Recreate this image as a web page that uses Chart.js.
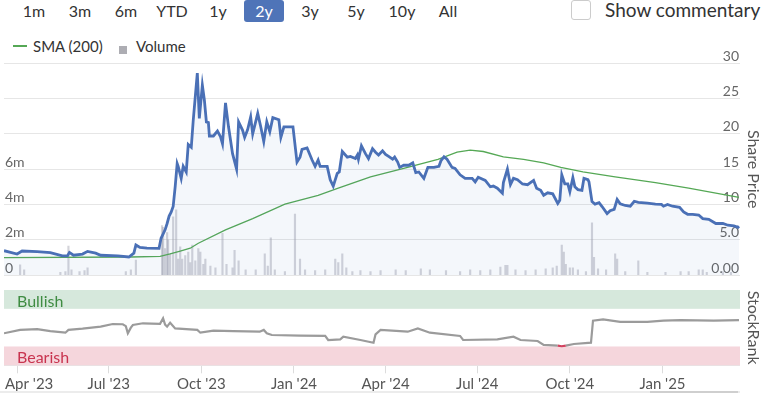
<!DOCTYPE html>
<html>
<head>
<meta charset="utf-8">
<script src="https://cdn.jsdelivr.net/npm/chart.js@4.4.1/dist/chart.umd.min.js"></script>
<style>
  html, body { margin: 0; padding: 0; background: #fff; }
  body { width: 764px; height: 393px; position: relative; overflow: hidden; font-family: Lato, sans-serif; color: #333; }
  #ranges { position: absolute; left: 11px; top: 0; display: flex; }
  #ranges span { width: 40px; margin: 0 3px; height: 22px; line-height: 22px; text-align: center; font-size: 16px; border-radius: 3px; }
  #ranges span.on { background: #4f74b8; color: #fff; }
  #commentBox { position: absolute; left: 571px; top: 0; width: 18px; height: 18px; border: 1px solid #ccc; border-radius: 3px; }
  #commentText { position: absolute; left: 605px; top: 0; line-height: 20px; font-size: 19px; }
  #legend { position: absolute; left: 0; top: 37px; height: 18px; font-size: 15px; line-height: 18px; }
  #legend .sma-line { position: absolute; left: 13px; top: 8px; width: 14px; height: 2px; background: #55a855; }
  #legend .sma-text { position: absolute; left: 33px; top: 0; white-space: nowrap; }
  #legend .vol-box { position: absolute; left: 119px; top: 9px; width: 8px; height: 8px; background: #adadb3; }
  #legend .vol-text { position: absolute; left: 136px; top: 0; }
  canvas { position: absolute; left: 0; }
  #priceChart { top: 44px; }
  #rankChart { top: 280px; }
  #scrollTrack { position: absolute; left: 0; top: 391px; width: 740px; height: 2px; background: #ececec; }
  #scrollThumb { position: absolute; left: 650px; top: 391px; width: 88px; height: 2px; background: #cfcfcf; }
</style>
</head>
<body>
<div id="ranges"></div>
<div id="commentBox"></div>
<div id="commentText">Show commentary</div>
<div id="legend">
  <div class="sma-line"></div><div class="sma-text">SMA (200)</div>
  <div class="vol-box"></div><div class="vol-text">Volume</div>
</div>
<canvas id="priceChart" width="764" height="244"></canvas>
<canvas id="rankChart" width="764" height="113"></canvas>
<div id="scrollTrack"></div>
<div id="scrollThumb"></div>
<script>
const rangeButtons = ['1m', '3m', '6m', 'YTD', '1y', '2y', '3y', '5y', '10y', 'All'];
const selectedRange = '2y';
const rangeStart = '2023-03-19';
const rangeEnd = '2025-03-19';

const quarterDates = ['2023-04-01', '2023-07-01', '2023-10-01', '2024-01-01', '2024-04-01', '2024-07-01', '2024-10-01', '2025-01-01'];
const quarterLabels = ["Apr '23", "Jul '23", "Oct '23", "Jan '24", "Apr '24", "Jul '24", "Oct '24", "Jan '25"];

const priceTicks = [0, 5, 10, 15, 20, 25, 30];
const priceTickLabels = ['0.00', '5.0', '10', '15', '20', '25', '30'];
const volumeTicks = [0, 2e6, 4e6, 6e6];
const volumeTickLabels = ['0', '2m', '4m', '6m'];
const rankTicks = [0, 100];
const rankTickLabels = ['0', ''];
const BULLISH_MIN = 75;
const BEARISH_MAX = 25;

const priceDates = [
  '2023-03-19', '2023-04-01', '2023-04-06', '2023-04-21', '2023-05-04', '2023-05-16', '2023-05-21', '2023-05-23',
  '2023-05-27', '2023-06-05', '2023-06-10', '2023-06-18', '2023-06-23', '2023-07-10', '2023-07-21', '2023-07-26',
  '2023-07-28', '2023-08-01', '2023-08-08', '2023-08-20', '2023-08-22', '2023-08-26', '2023-08-28', '2023-08-30',
  '2023-09-01', '2023-09-03', '2023-09-05', '2023-09-07', '2023-09-08', '2023-09-11', '2023-09-13', '2023-09-16',
  '2023-09-18', '2023-09-21', '2023-09-23', '2023-09-27', '2023-09-29', '2023-10-02', '2023-10-04', '2023-10-06',
  '2023-10-08', '2023-10-09', '2023-10-13', '2023-10-17', '2023-10-20', '2023-10-22', '2023-10-25', '2023-10-28',
  '2023-11-01', '2023-11-05', '2023-11-07', '2023-11-11', '2023-11-13', '2023-11-16', '2023-11-19', '2023-11-21',
  '2023-11-26', '2023-11-29', '2023-12-02', '2023-12-05', '2023-12-08', '2023-12-11', '2023-12-17', '2023-12-19',
  '2023-12-22', '2023-12-31', '2024-01-04', '2024-01-07', '2024-01-09', '2024-01-14', '2024-01-19', '2024-01-22',
  '2024-01-25', '2024-01-27', '2024-02-03', '2024-02-06', '2024-02-09', '2024-02-13', '2024-02-15', '2024-02-18',
  '2024-02-23', '2024-02-26', '2024-03-02', '2024-03-04', '2024-03-05', '2024-03-08', '2024-03-12', '2024-03-15',
  '2024-03-19', '2024-03-22', '2024-03-25', '2024-03-29', '2024-04-01', '2024-04-04', '2024-04-08', '2024-04-10',
  '2024-04-13', '2024-04-15', '2024-04-19', '2024-04-24', '2024-04-28', '2024-05-01', '2024-05-04', '2024-05-09',
  '2024-05-13', '2024-05-19', '2024-05-24', '2024-05-26', '2024-05-29', '2024-06-01', '2024-06-06', '2024-06-09',
  '2024-06-14', '2024-06-19', '2024-06-26', '2024-06-29', '2024-07-02', '2024-07-09', '2024-07-14', '2024-07-17',
  '2024-07-21', '2024-07-26', '2024-07-27', '2024-07-31', '2024-08-03', '2024-08-06', '2024-08-10', '2024-08-15',
  '2024-08-20', '2024-08-26', '2024-08-29', '2024-09-02', '2024-09-05', '2024-09-09', '2024-09-14', '2024-09-19',
  '2024-09-21', '2024-09-23', '2024-09-26', '2024-09-29', '2024-10-01', '2024-10-04', '2024-10-06', '2024-10-09',
  '2024-10-13', '2024-10-15', '2024-10-19', '2024-10-20', '2024-10-23', '2024-10-26', '2024-10-30', '2024-11-02',
  '2024-11-07', '2024-11-10', '2024-11-14', '2024-11-17', '2024-11-20', '2024-11-25', '2024-11-30', '2024-12-04',
  '2024-12-08', '2024-12-17', '2024-12-25', '2024-12-31', '2025-01-02', '2025-01-06', '2025-01-11', '2025-01-18',
  '2025-01-22', '2025-01-26', '2025-01-31', '2025-02-06', '2025-02-10', '2025-02-16', '2025-02-23', '2025-03-02',
  '2025-03-07', '2025-03-13', '2025-03-17', '2025-03-18'
];
const priceValues = [
  3.44, 2.97, 3.4, 3.3, 3.16, 2.7, 2.7, 3.2,
  2.8, 2.97, 3.35, 3.1, 2.8, 2.7, 2.55, 3.1,
  4.25, 3.9, 3.8, 3.77, 5.2, 6.4, 7.3, 8.35,
  8.9, 9.7, 12.5, 15.8, 15.4, 13.7, 15.4, 14.6,
  18.5, 18.1, 22, 28.6, 22.2, 26.9, 24.8, 21.7,
  21.6, 19.7, 19.7, 20.4, 19.6, 18.6, 24.4, 21,
  17.2, 15, 21.7, 20.5, 19.5, 20.6, 22.4, 20,
  22.9, 21, 18.9, 21.7, 20.3, 22.3, 22, 19.5,
  21, 21, 16, 16.7, 17.8, 18, 16.3, 15.4,
  16.3, 15.4, 15.4, 13.5, 12.6, 14.4, 14.6, 17.5,
  16.7, 16.8, 16.5, 17, 16.4, 18.3, 17.2, 16.5,
  17.9, 17.4, 17, 17.6, 17.1, 16.8, 16.4, 16.7,
  16, 15.25, 15.55, 15.55, 15.9, 14.5, 14.6, 13.7,
  15.25, 15.25, 15.4, 16.2, 16.75, 16.4, 15.25, 15.1,
  14.2, 13.7, 13.7, 13.2, 13.85, 13.4, 12.5, 12.6,
  12.3, 11.6, 13.1, 15, 12.8, 13.7, 13.5, 12.9,
  12.8, 13.4, 12.3, 12, 11.3, 11.65, 11.5, 10.15,
  10.6, 14.2, 12.9, 12.9, 11.8, 13.8, 12.5, 12.1,
  12, 13.7, 13.5, 13.2, 10.4, 10.05, 10.25, 9.7,
  8.7, 9.1, 9.3, 10.7, 10.1, 9.85, 9.75, 10.45,
  10.3, 10.2, 10.05, 10, 9.75, 10, 9.75, 9.6,
  8.95, 8.6, 8.6, 8.5, 8.0, 7.9, 7.3, 7.3,
  7.05, 6.95, 6.75, 6.9
];

const smaDates = [
  '2023-03-19', '2023-07-23', '2023-08-21', '2023-08-31', '2023-09-10', '2023-09-20', '2023-09-28', '2023-10-25',
  '2023-11-21', '2023-12-23', '2024-01-25', '2024-02-14', '2024-03-17', '2024-04-19', '2024-05-23', '2024-06-11',
  '2024-06-24', '2024-07-07', '2024-07-27', '2024-08-16', '2024-09-05', '2024-09-22', '2024-10-14', '2024-11-15',
  '2024-12-25', '2025-01-27', '2025-03-18'
];
const smaValues = [
  2.45, 2.55, 2.65, 3.0, 3.4, 3.8, 4.5, 6.4,
  8.0, 10.05, 11.3, 12.3, 13.9, 15.1, 16.4, 17.4,
  17.7, 17.5, 16.75, 16.4, 15.9, 15.25, 14.6, 13.9,
  13.1, 12.3, 11.0
];

const volumeDates = [
  '2023-04-04', '2023-04-08', '2023-05-14', '2023-05-19', '2023-05-22', '2023-05-25', '2023-06-02', '2023-06-07',
  '2023-06-10', '2023-07-18', '2023-07-23', '2023-07-28', '2023-08-23', '2023-08-24', '2023-08-26', '2023-08-28',
  '2023-08-29', '2023-08-31', '2023-09-03', '2023-09-06', '2023-09-08', '2023-09-10', '2023-09-12', '2023-09-15',
  '2023-09-18', '2023-09-20', '2023-09-22', '2023-09-25', '2023-09-28', '2023-09-30', '2023-10-03', '2023-10-05',
  '2023-10-10', '2023-10-15', '2023-10-22', '2023-10-26', '2023-11-01', '2023-11-03', '2023-11-07', '2023-11-14',
  '2023-11-24', '2023-12-03', '2023-12-06', '2023-12-09', '2023-12-13', '2023-12-23', '2024-01-02', '2024-01-07',
  '2024-01-12', '2024-01-22', '2024-02-01', '2024-02-11', '2024-02-14', '2024-02-18', '2024-02-22', '2024-02-28',
  '2024-03-07', '2024-03-17', '2024-03-27', '2024-04-11', '2024-04-21', '2024-05-06', '2024-05-15', '2024-05-31',
  '2024-06-14', '2024-06-24', '2024-07-04', '2024-07-14', '2024-07-24', '2024-07-29', '2024-07-31', '2024-08-08',
  '2024-08-18', '2024-08-28', '2024-09-07', '2024-09-14', '2024-09-18', '2024-09-23', '2024-09-25', '2024-09-27',
  '2024-10-01', '2024-10-04', '2024-10-09', '2024-10-17', '2024-10-23', '2024-10-25', '2024-10-29', '2024-11-06',
  '2024-11-15', '2024-11-17', '2024-11-25', '2024-12-08', '2024-12-17', '2025-01-04', '2025-01-19', '2025-01-27',
  '2025-02-06', '2025-02-10', '2025-02-14', '2025-03-02', '2025-03-10'
];
const volumeValues = [
  0.57e6, 0.3e6, 0.15e6, 0.2e6, 1.64e6, 0.3e6, 0.2e6, 0.25e6,
  0.4e6, 0.2e6, 0.3e6, 0.85e6, 2.8e6, 2.7e6, 1.5e6, 2.4e6,
  2.0e6, 1.2e6, 3.3e6, 3.7e6, 0.9e6, 1.6e6, 0.9e6, 1.1e6,
  1.3e6, 0.7e6, 1.7e6, 0.8e6, 1.5e6, 1.3e6, 0.6e6, 0.9e6,
  0.5e6, 0.4e6, 2.36e6, 0.6e6, 0.4e6, 1.4e6, 0.8e6, 0.3e6,
  0.3e6, 1.2e6, 0.5e6, 2.1e6, 0.3e6, 0.2e6, 3.45e6, 0.9e6,
  0.3e6, 0.25e6, 0.3e6, 0.9e6, 0.7e6, 1.2e6, 0.4e6, 0.2e6,
  0.25e6, 0.2e6, 0.25e6, 0.3e6, 0.25e6, 0.35e6, 0.3e6, 0.25e6,
  0.2e6, 0.3e6, 0.25e6, 0.3e6, 0.45e6, 0.55e6, 0.55e6, 0.3e6,
  0.25e6, 0.3e6, 0.35e6, 0.4e6, 0.5e6, 1.7e6, 1.3e6, 0.6e6,
  0.4e6, 0.4e6, 0.3e6, 0.2e6, 2.96e6, 1.0e6, 0.35e6, 0.3e6,
  1.2e6, 0.9e6, 0.2e6, 0.8e6, 0.15e6, 0.15e6, 0.2e6, 0.2e6,
  0.3e6, 0.3e6, 0.15e6, 0.2e6, 0.15e6
];

const rankDates = [
  '2023-03-19', '2023-04-04', '2023-04-21', '2023-05-04', '2023-05-19', '2023-05-22', '2023-06-05', '2023-06-23',
  '2023-07-05', '2023-07-15', '2023-07-18', '2023-07-20', '2023-07-23', '2023-07-25', '2023-08-04', '2023-08-21',
  '2023-08-24', '2023-08-26', '2023-08-28', '2023-08-31', '2023-09-05', '2023-09-27', '2023-09-30', '2023-10-13',
  '2023-11-02', '2023-11-28', '2023-12-02', '2023-12-05', '2023-12-10', '2024-01-07', '2024-02-01', '2024-02-04',
  '2024-02-16', '2024-02-19', '2024-03-07', '2024-03-20', '2024-03-22', '2024-03-27', '2024-04-23', '2024-05-03',
  '2024-05-15', '2024-06-14', '2024-06-17', '2024-07-21', '2024-08-06', '2024-08-13', '2024-08-30', '2024-09-05',
  '2024-09-19', '2024-09-23', '2024-09-27', '2024-10-05', '2024-10-22', '2024-10-24', '2024-11-03', '2024-11-20',
  '2024-12-17', '2025-01-02', '2025-01-19', '2025-02-21', '2025-03-18'
];
const rankValues = [
  42.5, 47, 48, 45.5, 43.3, 47, 48.6, 51.3,
  54.8, 54.5, 52, 42.5, 50, 53.5, 55.8, 55,
  62.4, 54, 51.3, 56.6, 49, 47, 43.3, 46,
  45.5, 44.6, 47, 42.5, 40.2, 39.3, 39, 33.6,
  34.4, 38, 33.6, 30, 41, 47, 44.6, 49,
  43.3, 39, 33.6, 34.4, 38, 33.6, 32.3, 27,
  26.2, 25.3, 26.2, 28.3, 30, 59.2, 61, 57.6,
  57.6, 59.2, 60, 59.2, 60
];

const toX = d => Date.parse(d);
const X_MIN = toX(rangeStart);
const X_MAX = toX(rangeEnd);
const points = (dates, values) => dates.map((d, i) => ({ x: toX(d), y: values[i] }));
const FONT = 'Lato';

// range selector row
const ranges = document.getElementById('ranges');
rangeButtons.forEach(r => {
  const s = document.createElement('span');
  s.textContent = r;
  if (r === selectedRange) s.className = 'on';
  ranges.appendChild(s);
});

new Chart(document.getElementById('priceChart'), {
  type: 'line',
  data: {
    datasets: [
      {
        type: 'line',
        label: 'Share Price',
        data: points(priceDates, priceValues),
        yAxisID: 'price',
        borderColor: '#4a70b6',
        borderWidth: 2.8,
        pointRadius: 0,
        fill: 'origin',
        backgroundColor: 'rgba(74,112,182,0.06)',
        order: 0
      },
      {
        type: 'line',
        label: 'SMA (200)',
        data: points(smaDates, smaValues),
        yAxisID: 'price',
        borderColor: '#55a855',
        borderWidth: 1.3,
        pointRadius: 0,
        fill: false,
        order: 1
      },
      {
        type: 'bar',
        label: 'Volume',
        data: points(volumeDates, volumeValues),
        yAxisID: 'volume',
        backgroundColor: 'rgba(160,160,172,0.45)',
        barThickness: 1.5,
        order: 2
      }
    ]
  },
  options: {
    responsive: false,
    animation: false,
    layout: { padding: { top: 19.3, bottom: 13, left: 4, right: 0 } },
    plugins: { legend: { display: false }, tooltip: { enabled: false } },
    scales: {
      x: { type: 'linear', min: X_MIN, max: X_MAX, offset: false, display: false },
      price: {
        axis: 'y',
        type: 'linear',
        position: 'right',
        min: 0,
        max: 30,
        afterBuildTicks: s => { s.ticks = priceTicks.map(v => ({ value: v })); },
        afterFit: s => { s.width = 24; },
        grid: { color: '#e6e6e6', drawTicks: false },
        border: { display: false },
        ticks: {
          mirror: true, padding: -1, labelOffset: -7, color: '#666',
          font: { family: FONT, size: 14 },
          callback: (v, i) => priceTickLabels[i]
        },
        title: { display: true, text: 'Share Price', color: '#555', font: { family: FONT, size: 16 }, padding: { top: 1, bottom: 0 } }
      },
      volume: {
        axis: 'y',
        type: 'linear',
        position: 'left',
        min: 0,
        max: 12e6,
        afterBuildTicks: s => { s.ticks = volumeTicks.map(v => ({ value: v })); },
        afterFit: s => { s.width = 0; },
        grid: { display: false },
        border: { display: false },
        ticks: {
          mirror: true, padding: 1, labelOffset: -7, color: '#666',
          font: { family: FONT, size: 14 },
          callback: (v, i) => volumeTickLabels[i]
        }
      }
    }
  }
});

// Bullish / Bearish bands behind the StockRank line
const bandsPlugin = {
  id: 'bands',
  beforeDatasetsDraw(chart) {
    const { ctx, chartArea: a } = chart;
    const y = chart.scales.rank;
    const bands = [
      { from: BULLISH_MIN, to: 100, fill: '#d6e8dc', text: 'Bullish', color: '#3f8c42' },
      { from: 0, to: BEARISH_MAX, fill: '#f5d6dc', text: 'Bearish', color: '#c8344f' }
    ];
    ctx.save();
    bands.forEach(b => {
      const top = y.getPixelForValue(b.to);
      const bottom = y.getPixelForValue(b.from);
      ctx.fillStyle = b.fill;
      ctx.fillRect(a.left, top, a.right - a.left, bottom - top);
      ctx.fillStyle = b.color;
      ctx.font = '16px ' + FONT;
      ctx.textBaseline = 'middle';
      ctx.textAlign = 'left';
      ctx.fillText(b.text, a.left + 13, (top + bottom) / 2 + 2);
    });
    ctx.restore();
  }
};

// keep the first date label inside the plot, like the original
const firstLabelPlugin = {
  id: 'firstLabel',
  beforeDraw(chart) {
    const items = chart.scales.x.getLabelItems(chart.chartArea);
    if (items && items.length) {
      const o = items[0].options;
      o.textAlign = 'left';
      o.translation = [chart.chartArea.left + 1, o.translation[1]];
    }
  }
};

new Chart(document.getElementById('rankChart'), {
  type: 'line',
  data: {
    datasets: [{
      label: 'StockRank',
      data: points(rankDates, rankValues),
      yAxisID: 'rank',
      borderColor: '#9b9b9b',
      borderWidth: 2.2,
      pointRadius: 0,
      fill: false,
      segment: {
        borderColor: c => (c.p0.parsed.y < BEARISH_MAX + 1.5 && c.p1.parsed.y < BEARISH_MAX + 1.5) ? '#d2415e' : undefined
      }
    }]
  },
  options: {
    responsive: false,
    animation: false,
    layout: { padding: { top: 10, bottom: 0, left: 4, right: 0 } },
    plugins: { legend: { display: false }, tooltip: { enabled: false } },
    scales: {
      x: {
        type: 'linear',
        min: X_MIN,
        max: X_MAX,
        afterBuildTicks: s => { s.ticks = quarterDates.map(d => ({ value: toX(d) })); },
        afterFit: s => { s.height = 27.7; s.paddingLeft = 0; s.paddingRight = 0; },
        grid: { drawOnChartArea: false, tickLength: 8, color: '#dcdcdc' },
        border: { display: false },
        ticks: {
          autoSkip: false, maxRotation: 0, padding: 2, color: '#555',
          font: { family: FONT, size: 15 },
          callback: (v, i) => quarterLabels[i]
        }
      },
      rank: {
        axis: 'y',
        type: 'linear',
        position: 'right',
        min: 0,
        max: 100,
        afterBuildTicks: s => { s.ticks = rankTicks.map(v => ({ value: v })); },
        afterFit: s => { s.width = 24; },
        grid: { color: '#e6e6e6', drawTicks: false },
        border: { display: false },
        ticks: {
          mirror: true, padding: -1, labelOffset: -7, color: '#666',
          font: { family: FONT, size: 14 },
          callback: (v, i) => rankTickLabels[i]
        },
        title: { display: true, text: 'StockRank', color: '#555', font: { family: FONT, size: 16 }, padding: { top: 1, bottom: 0 } }
      }
    }
  },
  plugins: [bandsPlugin, firstLabelPlugin]
});
</script>
</body>
</html>
